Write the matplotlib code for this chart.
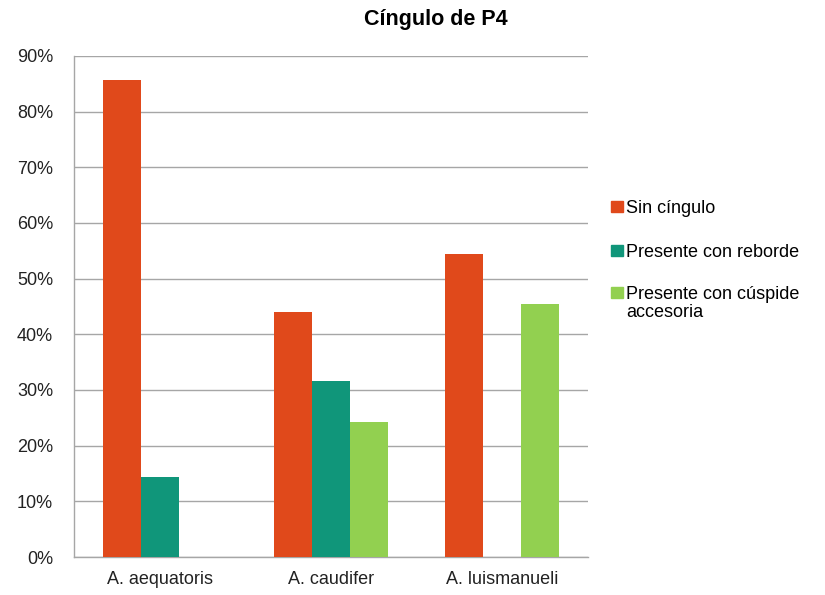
import numpy as np
from matplotlib import pyplot as plt
from matplotlib.patches import Rectangle
from matplotlib.ticker import FuncFormatter

plt.rcParams["font.family"] = ["Liberation Sans", "DejaVu Sans"]

species = ["A. aequatoris", "A. caudifer", "A. luismanueli"]
series = ["Sin cíngulo", "Presente con reborde", "Presente con cúspide\naccesoria"]
sin_cingulo = [85.7, 44.1, 54.5]
con_reborde = [14.3, 31.6, 0.0]
con_cuspide = [0.0, 24.3, 45.5]
colors = ["#E0491B", "#10967A", "#92D050"]

fig = plt.figure(figsize=(8.25, 5.95), dpi=100)
ax = fig.add_axes([74 / 825, 38 / 595, 514 / 825, 501 / 595])

x = np.arange(len(species))
w = 1 / 4.5
for i, vals in enumerate([sin_cingulo, con_reborde, con_cuspide]):
    ax.bar(x + (i - 1) * w, vals, w, color=colors[i], zorder=3)

ax.set_xlim(-0.5, len(species) - 0.5)
ax.set_ylim(0, 90)
ax.set_yticks(np.arange(0, 91, 10))
ax.yaxis.set_major_formatter(FuncFormatter(lambda v, p: f"{v:.0f}%"))
ax.set_xticks(x)
ax.set_xticklabels(species)
ax.tick_params(length=0, labelsize=13, colors="#222222")
ax.tick_params(axis="y", pad=15)
ax.tick_params(axis="x", pad=10)
ax.grid(axis="y", color="#A6A6A6", linewidth=1, zorder=0)
for s in ["top", "right"]:
    ax.spines[s].set_visible(False)
for s in ["left", "bottom"]:
    ax.spines[s].set_color("#A6A6A6")
    ax.spines[s].set_linewidth(1)

fig.text(436 / 825, 1 - 20 / 595, "Cíngulo de P4", ha="center", va="center",
         fontsize=15.5, fontweight="bold")

# legend drawn by hand so the square sits on the first line
tops = [201, 245, 287]
for name, c, yy in zip(series, colors, tops):
    fig.patches.append(Rectangle((611 / 825, 1 - (yy + 11) / 595), 12 / 825, 11 / 595,
                                 transform=fig.transFigure, color=c))
    fig.text(626 / 825, 1 - (yy - 1) / 595, name, ha="left", va="top",
             fontsize=13, linespacing=1.05)

fig.savefig("out.png", dpi=100)
